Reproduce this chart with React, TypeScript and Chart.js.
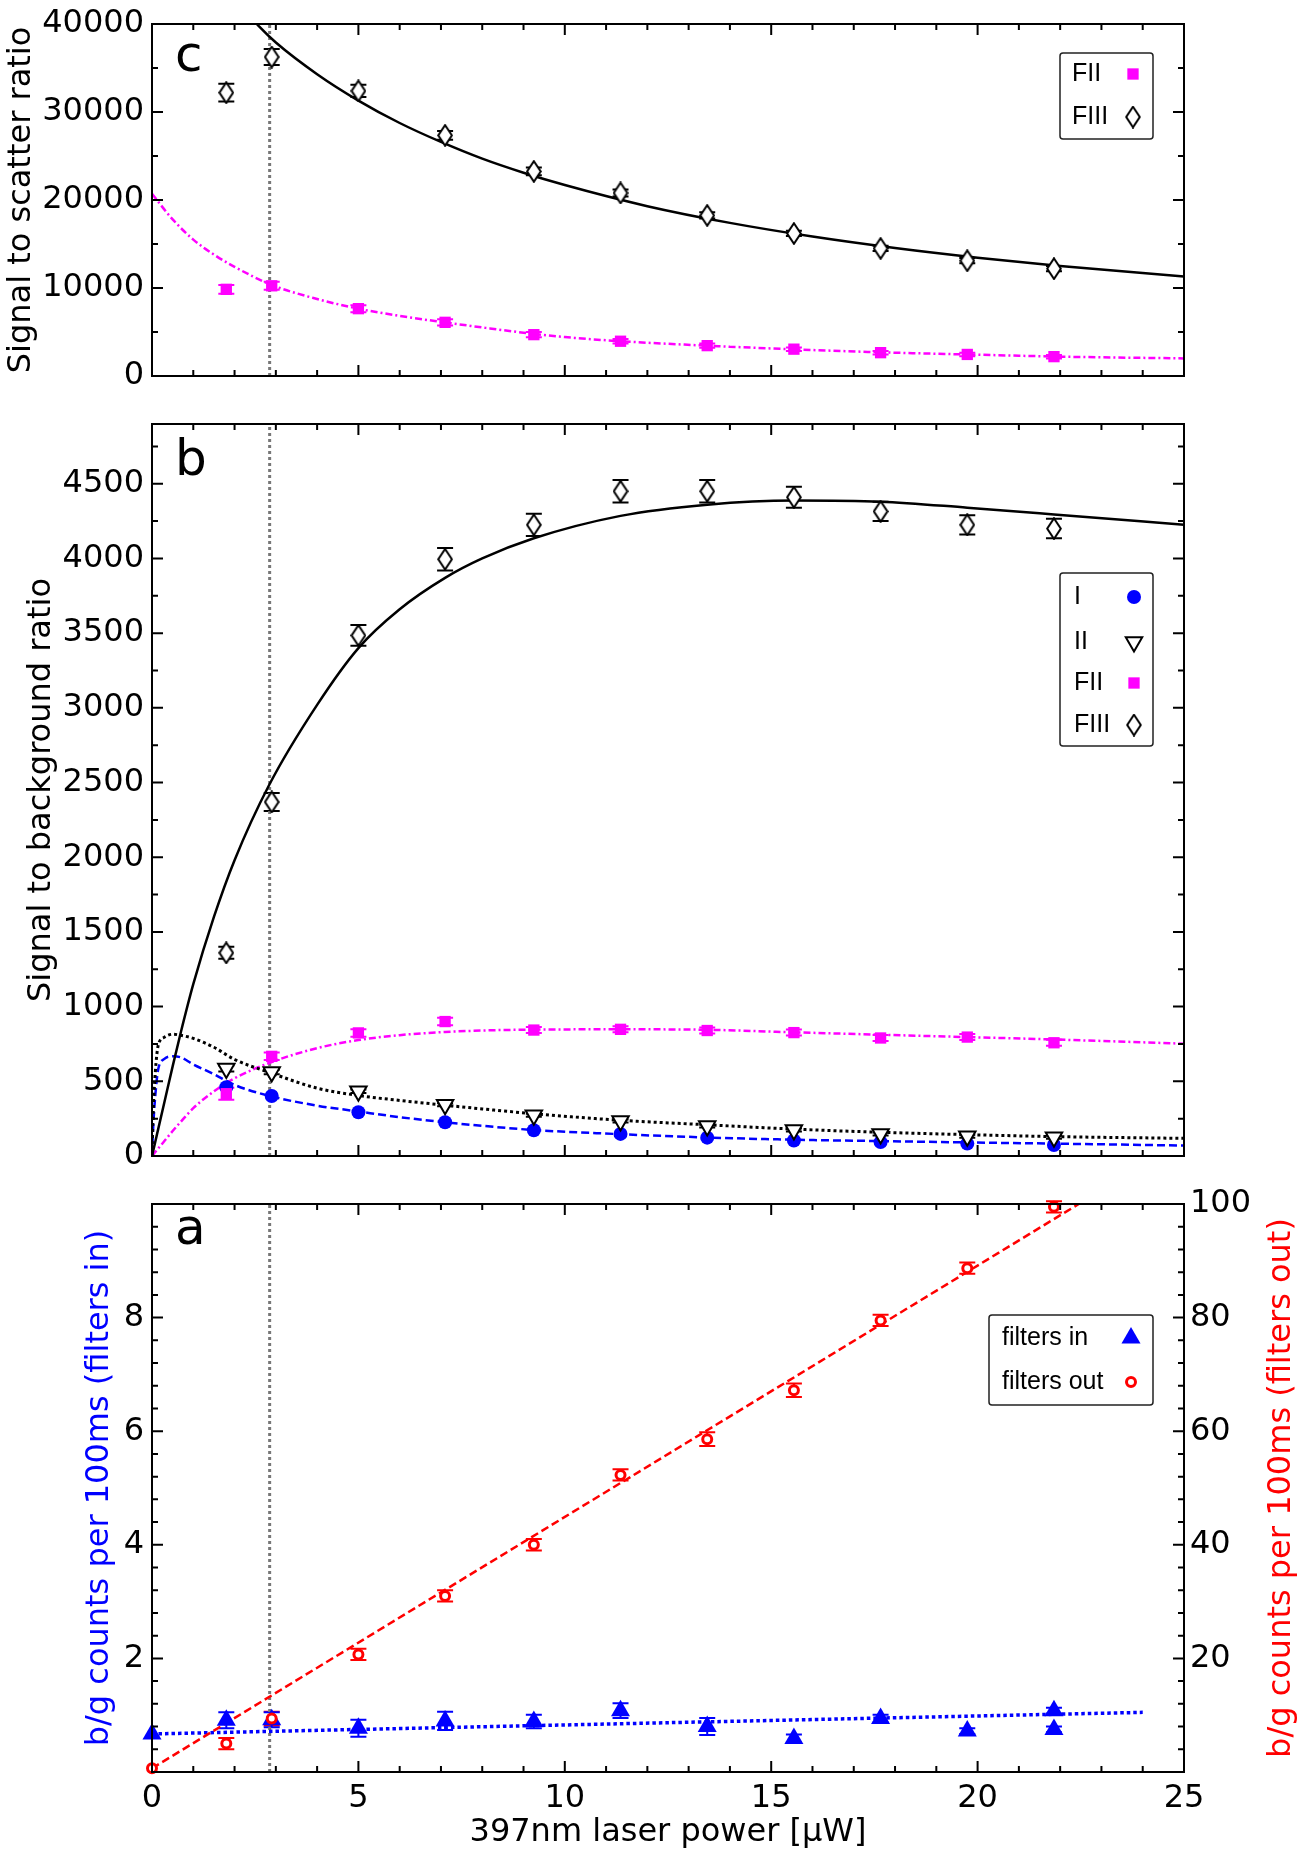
import { useEffect, useRef } from 'react'
import { Chart, registerables } from 'chart.js'
import { drawPoint } from 'chart.js/helpers'

Chart.register(...registerables)

const FONT = '"DejaVu Sans", "Liberation Sans", sans-serif'
const LEGEND_FONT = '"Liberation Sans", Arial, sans-serif'
Chart.defaults.font.family = FONT
Chart.defaults.color = '#000'

const MAGENTA = '#ff00ff'
const BLUE = '#0000ff'
const RED = '#ff0000'
const GREY = '#777777'

// laser power of the measurements [uW]
const powerUW = [1.8, 2.9, 5.0, 7.1, 9.25, 11.35, 13.45, 15.55, 17.65, 19.75, 21.85]
const markerPower = 2.85

// panel c: signal to scatter ratio
const scatterFIII = [32200, 36250, 32400, 27350, 23250, 20800, 18250, 16200, 14500, 13100, 12200]
const scatterFIIIErr = [1000, 900, 700, 500, 450, 400, 350, 300, 300, 300, 300]
const scatterFII = [9850, 10250, 7650, 6100, 4700, 3950, 3450, 3050, 2650, 2450, 2200]
const scatterFIIErr = [500, 450, 400, 350, 300, 250, 250, 200, 200, 200, 200]

const scatterFitFIIIX = [2.3, 2.6, 3, 4, 5, 6, 7, 8, 9, 10, 12, 14, 16, 18, 20, 22, 25]
const scatterFitFIII = [41300, 39700, 37900, 34300, 31300, 28750, 26600, 24700, 23100, 21700, 19300, 17400, 15850, 14550, 13450, 12500, 11300]
const scatterFitFIIX = [0, 0.5, 1, 1.5, 2, 2.9, 4, 5, 6, 7, 8, 9, 10, 11, 12, 14, 16, 18, 20, 22, 25]
const scatterFitFII = [20700, 17800, 15500, 13800, 12400, 10350, 8750, 7650, 6830, 6150, 5520, 4920, 4430, 4060, 3780, 3330, 2950, 2650, 2420, 2200, 2000]

// panel b: signal to background ratio
const bgFIII = [1360, 2370, 3485, 3995, 4225, 4450, 4450, 4410, 4315, 4225, 4200]
const bgFIIIErr = [40, 60, 70, 75, 75, 75, 75, 70, 65, 65, 65]
const bgFII = [417, 667, 824, 900, 843, 848, 840, 826, 790, 796, 758]
const bgFIIErr = [40, 25, 25, 25, 20, 20, 20, 20, 20, 20, 20]
const bgI = [461, 402, 293, 226, 172, 148, 123, 104, 93, 83, 74]
const bgII = [585, 563, 433, 343, 272, 235, 200, 174, 148, 133, 126]
const bgIIErr = [20, 15, 12, 10, 10, 10, 10, 10, 10, 10, 10]

const bgFitX = [0, 0.03, 0.08, 0.15, 0.3, 0.5, 0.7, 1, 1.5, 2, 2.85, 4, 5, 6, 7.1, 8, 9.25, 11.35, 13.45, 15.55, 17.65, 19.75, 21.85, 25]
const bgFitFIII = [0, 36, 96, 180, 360, 600, 830, 1150, 1600, 1980, 2490, 3020, 3400, 3660, 3870, 4000, 4135, 4285, 4360, 4388, 4380, 4340, 4295, 4225]
const bgFitFII = [0, 10, 27, 50, 100, 167, 230, 320, 433, 520, 624, 722, 776, 809, 830, 840, 846, 848, 845, 828, 812, 796, 780, 752]
const bgFitI = [0, 200, 406, 580, 650, 667, 660, 613, 548, 476, 402, 337, 298, 260, 226, 202, 174, 146, 124, 109, 100, 91, 83, 70]
const bgFitII = [0, 300, 560, 740, 795, 815, 808, 787, 728, 646, 559, 454, 405, 372, 340, 315, 283, 239, 209, 180, 159, 143, 130, 118]

// panel a: background counts
const inPower = [0, 1.8, 2.9, 5.0, 7.1, 9.25, 11.35, 13.45, 15.55, 17.65, 19.75, 21.85, 21.85]
const filtersIn = [0.67, 0.91, 0.92, 0.77, 0.9, 0.89, 1.08, 0.8, 0.59, 0.94, 0.72, 1.08, 0.75]
const filtersInErr = [0, 0.14, 0.13, 0.15, 0.16, 0.12, 0.13, 0.15, 0.07, 0.07, 0.05, 0.05, 0.05]
const outPower = [0, 1.8, 2.9, 5.0, 7.1, 9.25, 11.35, 13.45, 15.55, 17.65, 19.75, 21.85]
const filtersOut = [0.65, 5.0, 9.4, 20.7, 31.0, 40.0, 52.3, 58.6, 67.2, 79.5, 88.7, 99.5]
const filtersOutErr = [0, 1, 1.2, 1, 1, 1, 1, 1.2, 1.2, 1, 1, 1]

const filtersInFitX = [0, 24]
const filtersInFit = [0.67, 1.05]
const filtersOutFitX = [0, 22.45]
const filtersOutFit = [0.65, 100]

// labelled y values of panel b
const bgTickLabels = [0, 500, 1000, 1500, 2000, 2500, 3000, 3500, 4000, 4500]

const TICK_FONT = { size: 32, lineHeight: 1 }
const TITLE_FONT = { size: 32, lineHeight: 1.2 }
const DASHDOT = [7, 3, 2, 3]
const CAP = 8

let diamond: HTMLCanvasElement | null = null
function getDiamond() {
  if (diamond) return diamond
  const c = document.createElement('canvas')
  c.width = 16
  c.height = 23
  const g = c.getContext('2d')!
  g.beginPath()
  g.moveTo(8, 1.2)
  g.lineTo(14.8, 11.5)
  g.lineTo(8, 21.8)
  g.lineTo(1.2, 11.5)
  g.closePath()
  g.fillStyle = '#fff'
  g.fill()
  g.lineWidth = 2
  g.strokeStyle = '#000'
  g.stroke()
  diamond = c
  return c
}

const marks = () => ({
  fiii: { pointStyle: getDiamond(), radius: 11, rotation: 0, fill: '#fff', stroke: '#000', borderWidth: 2 },
  fii: { pointStyle: 'rect', radius: 8, rotation: 0, fill: MAGENTA, stroke: MAGENTA, borderWidth: 0 },
  i: { pointStyle: 'circle', radius: 7, rotation: 0, fill: BLUE, stroke: BLUE, borderWidth: 0 },
  ii: { pointStyle: 'triangle', radius: 9.5, rotation: 180, fill: '#fff', stroke: '#000', borderWidth: 2 },
  fin: { pointStyle: 'triangle', radius: 11, rotation: 0, fill: BLUE, stroke: BLUE, borderWidth: 0 },
  fout: { pointStyle: 'circle', radius: 4.5, rotation: 0, fill: '#fff', stroke: RED, borderWidth: 3 },
})

const pts = (xs: number[], ys: number[]) => xs.map((x, i) => ({ x, y: ys[i] }))

function pointSet(xs: number[], ys: number[], err: number[] | null, m: any, errColor: string, yAxisID = 'y') {
  return {
    data: pts(xs, ys),
    yErr: err,
    errColor,
    yAxisID,
    showLine: false,
    clip: false,
    pointStyle: m.pointStyle,
    pointRadius: m.radius,
    pointRotation: m.rotation,
    pointBackgroundColor: m.fill,
    pointBorderColor: m.stroke,
    pointBorderWidth: m.borderWidth,
  }
}

function fitSet(xs: number[], ys: number[], color: string, dash: number[], width: number, yAxisID = 'y') {
  return {
    data: pts(xs, ys),
    yAxisID,
    showLine: true,
    fill: false,
    borderColor: color,
    borderDash: dash,
    borderWidth: width,
    pointRadius: 0,
    cubicInterpolationMode: 'monotone',
  }
}

function markerLine(y0: number, y1: number) {
  return {
    data: [{ x: markerPower, y: y0 }, { x: markerPower, y: y1 }],
    showLine: true,
    borderColor: GREY,
    borderDash: [3, 3],
    borderWidth: 3,
    pointRadius: 0,
  }
}

function eachTick(scale: any, minor: number, major: number, fn: (p: number, major: boolean) => void) {
  const n = Math.floor((scale.max - scale.min) / minor + 1e-6)
  for (let i = 0; i <= n; i++) {
    const v = scale.min + i * minor
    const r = v / major
    fn(scale.getPixelForValue(v), Math.abs(r - Math.round(r)) < 1e-6)
  }
}

// frame with inward ticks, error bars, panel letter and boxed legend
const decor = (spec: any) => ({
  id: 'decor',
  beforeDatasetsDraw(chart: any) {
    const { ctx } = chart
    chart.data.datasets.forEach((ds: any, i: number) => {
      if (!ds.yErr) return
      const meta = chart.getDatasetMeta(i)
      const ys = chart.scales[meta.yAxisID]
      ctx.save()
      ctx.strokeStyle = ds.errColor
      ctx.lineWidth = 2
      ds.data.forEach((p: any, j: number) => {
        const e = ds.yErr[j]
        if (!e) return
        const px = meta.data[j].x
        const y0 = ys.getPixelForValue(p.y - e)
        const y1 = ys.getPixelForValue(p.y + e)
        ctx.beginPath()
        ctx.moveTo(px, y0)
        ctx.lineTo(px, y1)
        ctx.moveTo(px - CAP, y0)
        ctx.lineTo(px + CAP, y0)
        ctx.moveTo(px - CAP, y1)
        ctx.lineTo(px + CAP, y1)
        ctx.stroke()
      })
      ctx.restore()
    })
  },
  afterDraw(chart: any) {
    const { ctx, chartArea: a, scales } = chart
    ctx.save()
    ctx.strokeStyle = '#000'
    ctx.lineWidth = 2
    ctx.strokeRect(a.left, a.top, a.right - a.left, a.bottom - a.top)
    ctx.beginPath()
    eachTick(scales.x, 1, 5, (p, major) => {
      const len = major ? 11 : 6
      ctx.moveTo(p, a.bottom)
      ctx.lineTo(p, a.bottom - len)
      ctx.moveTo(p, a.top)
      ctx.lineTo(p, a.top + len)
    })
    eachTick(scales.y, spec.yTicks[0], spec.yTicks[1], (p, major) => {
      const len = major ? 11 : 6
      ctx.moveTo(a.left, p)
      ctx.lineTo(a.left + len, p)
      if (!spec.rightAxis) {
        ctx.moveTo(a.right, p)
        ctx.lineTo(a.right - len, p)
      }
    })
    if (spec.rightAxis) {
      eachTick(scales[spec.rightAxis], spec.rightTicks[0], spec.rightTicks[1], (p, major) => {
        const len = major ? 11 : 6
        ctx.moveTo(a.right, p)
        ctx.lineTo(a.right - len, p)
      })
    }
    ctx.stroke()

    ctx.fillStyle = '#000'
    ctx.font = `50px ${FONT}`
    ctx.textAlign = 'left'
    ctx.textBaseline = 'alphabetic'
    ctx.fillText(spec.letter, 175, spec.letterY)

    if (spec.rightTitle) {
      ctx.save()
      ctx.translate(spec.rightTitle.x, (a.top + a.bottom) / 2)
      ctx.rotate(-Math.PI / 2)
      ctx.font = `32px ${FONT}`
      ctx.fillStyle = spec.rightTitle.color
      ctx.textAlign = 'center'
      ctx.textBaseline = 'middle'
      ctx.fillText(spec.rightTitle.text, 0, 0)
      ctx.restore()
    }

    const L = spec.legend
    if (L) {
      ctx.fillStyle = '#fff'
      ctx.strokeStyle = '#222'
      ctx.lineWidth = 1.5
      ctx.beginPath()
      ctx.roundRect(L.x, L.y, L.w, L.h, 3)
      ctx.fill()
      ctx.stroke()
      ctx.font = `25px ${LEGEND_FONT}`
      ctx.textAlign = 'left'
      ctx.textBaseline = 'middle'
      L.items.forEach((it: any, k: number) => {
        const y = L.rows[k]
        ctx.fillStyle = '#000'
        ctx.fillText(it.label, L.textX, y)
        ctx.fillStyle = it.m.fill
        ctx.strokeStyle = it.m.stroke
        ctx.lineWidth = it.m.borderWidth
        drawPoint(ctx, { pointStyle: it.m.pointStyle, rotation: it.m.rotation, radius: it.m.radius, borderWidth: it.m.borderWidth }, L.markX, y)
      })
    }
    ctx.restore()
  },
})

const hiddenX = { type: 'linear', min: 0, max: 25, display: false }

function leftAxis(min: number, max: number, step: number, width: number, title: string, padTop: number, label: (v: number) => string, color = '#000', tickValues: number[] | null = null) {
  return {
    type: 'linear',
    min,
    max,
    afterBuildTicks: (s: any) => {
      if (tickValues) s.ticks = tickValues.map((value) => ({ value }))
    },
    afterFit: (s: any) => {
      s.width = width
    },
    grid: { display: false, drawTicks: false },
    border: { display: false },
    ticks: { stepSize: step, padding: 8, font: TICK_FONT, autoSkip: false, callback: (v: any) => label(Number(v)) },
    title: { display: true, text: title, color, font: TITLE_FONT, padding: { top: padTop, bottom: 0 } },
  }
}

const baseOptions = (padding: any) => ({
  animation: false,
  responsive: false,
  events: [],
  layout: { padding },
  plugins: { legend: { display: false }, tooltip: { enabled: false } },
})

function configC() {
  const M = marks()
  return {
    type: 'scatter',
    data: {
      datasets: [
        pointSet(powerUW, scatterFIII, scatterFIIIErr, M.fiii, '#000'),
        pointSet(powerUW, scatterFII, scatterFIIErr, M.fii, MAGENTA),
        fitSet(scatterFitFIIIX, scatterFitFIII, '#000', [], 2.5),
        fitSet(scatterFitFIIX, scatterFitFII, MAGENTA, DASHDOT, 2.5),
        markerLine(0, 40000),
      ],
    },
    options: {
      ...baseOptions({ top: 21, bottom: 15, left: 0, right: 118 }),
      scales: {
        x: hiddenX,
        y: leftAxis(0, 40000, 10000, 152, 'Signal to scatter ratio', 2, (v) => String(v)),
      },
    },
    plugins: [
      decor({
        letter: 'c',
        letterY: 71,
        yTicks: [5000, 10000],
        legend: {
          x: 1060, y: 53, w: 93, h: 86, textX: 1072, markX: 1133, rows: [74, 117],
          items: [{ label: 'FII', m: M.fii }, { label: 'FIII', m: M.fiii }],
        },
      }),
    ],
  }
}

function configB() {
  const M = marks()
  return {
    type: 'scatter',
    data: {
      datasets: [
        pointSet(powerUW, bgFIII, bgFIIIErr, M.fiii, '#000'),
        pointSet(powerUW, bgII, bgIIErr, M.ii, '#000'),
        pointSet(powerUW, bgFII, bgFIIErr, M.fii, MAGENTA),
        pointSet(powerUW, bgI, null, M.i, BLUE),
        fitSet(bgFitX, bgFitFIII, '#000', [], 2.5),
        fitSet(bgFitX, bgFitII, '#000', [3, 3], 3),
        fitSet(bgFitX, bgFitI, BLUE, [8, 4], 2.5),
        fitSet(bgFitX, bgFitFII, MAGENTA, DASHDOT, 2.5),
        markerLine(0, 4900),
      ],
    },
    options: {
      ...baseOptions({ top: 14, bottom: 11, left: 21, right: 118 }),
      scales: {
        x: hiddenX,
        y: leftAxis(0, 4900, 500, 131, 'Signal to background ratio', 1, (v) => String(v), '#000', bgTickLabels),
      },
    },
    plugins: [
      decor({
        letter: 'b',
        letterY: 75,
        yTicks: [250, 500],
        legend: {
          x: 1060, y: 173, w: 93, h: 173, textX: 1074, markX: 1134, rows: [197, 242, 283, 325],
          items: [
            { label: 'I', m: M.i },
            { label: 'II', m: M.ii },
            { label: 'FII', m: M.fii },
            { label: 'FIII', m: M.fiii },
          ],
        },
      }),
    ],
  }
}

function configA() {
  const M = marks()
  return {
    type: 'scatter',
    data: {
      datasets: [
        pointSet(outPower, filtersOut, filtersOutErr, M.fout, RED, 'y2'),
        pointSet(inPower, filtersIn, filtersInErr, M.fin, BLUE),
        fitSet(filtersOutFitX, filtersOutFit, RED, [8, 4], 2.5, 'y2'),
        fitSet(filtersInFitX, filtersInFit, BLUE, [3.5, 3], 3.5),
        markerLine(0, 10),
      ],
    },
    options: {
      ...baseOptions({ top: 18, bottom: 0, left: 80, right: 0 }),
      scales: {
        x: {
          type: 'linear',
          min: 0,
          max: 25,
          afterFit: (s: any) => {
            s.height = 86
          },
          grid: { display: false, drawTicks: false },
          border: { display: false },
          ticks: { stepSize: 5, padding: 11, font: TICK_FONT, maxRotation: 0, autoSkip: false },
          title: { display: true, text: '397nm laser power [μW]', font: TITLE_FONT, padding: { top: 0, bottom: 6 } },
        },
        y: leftAxis(0, 10, 2, 72, 'b/g counts per 100ms (filters in)', 0, (v) => (v > 0 && v < 10 ? String(v) : ''), BLUE),
        y2: {
          type: 'linear',
          position: 'right',
          min: 0,
          max: 100,
          afterFit: (s: any) => {
            s.width = 118
          },
          grid: { display: false, drawTicks: false },
          border: { display: false },
          ticks: { stepSize: 20, padding: 6, font: TICK_FONT, autoSkip: false, callback: (v: any) => (Number(v) > 0 ? String(v) : '') },
          title: { display: false },
        },
      },
    },
    plugins: [
      decor({
        letter: 'a',
        letterY: 64,
        yTicks: [0.4, 2],
        rightAxis: 'y2',
        rightTicks: [4, 20],
        rightTitle: { x: 1282, text: 'b/g counts per 100ms (filters out)', color: RED },
        legend: {
          x: 989, y: 135, w: 164, h: 90, textX: 1002, markX: 1131, rows: [158, 202],
          items: [{ label: 'filters in', m: M.fin }, { label: 'filters out', m: M.fout }],
        },
      }),
    ],
  }
}

function Panel({ make, top, height }: { make: () => any; top: number; height: number }) {
  const chartRef = useRef<HTMLCanvasElement | null>(null)

  useEffect(() => {
    let chartInstance: Chart | null = null
    if (chartRef.current) {
      chartInstance = new Chart(chartRef.current, make())
    }
    return () => {
      if (chartInstance) chartInstance.destroy()
    }
  }, [make])

  return (
    <canvas
      ref={chartRef}
      width={1302}
      height={height}
      style={{ position: 'absolute', left: 0, top, width: 1302, height }}
    />
  )
}

export default function App() {
  useEffect(() => {
    document.body.style.margin = '0'
  }, [])

  return (
    <div style={{ position: 'absolute', left: 0, top: 0, width: 1302, height: 1858, background: '#fff' }}>
      <Panel make={configC} top={0} height={400} />
      <Panel make={configB} top={400} height={780} />
      <Panel make={configA} top={1180} height={678} />
    </div>
  )
}
